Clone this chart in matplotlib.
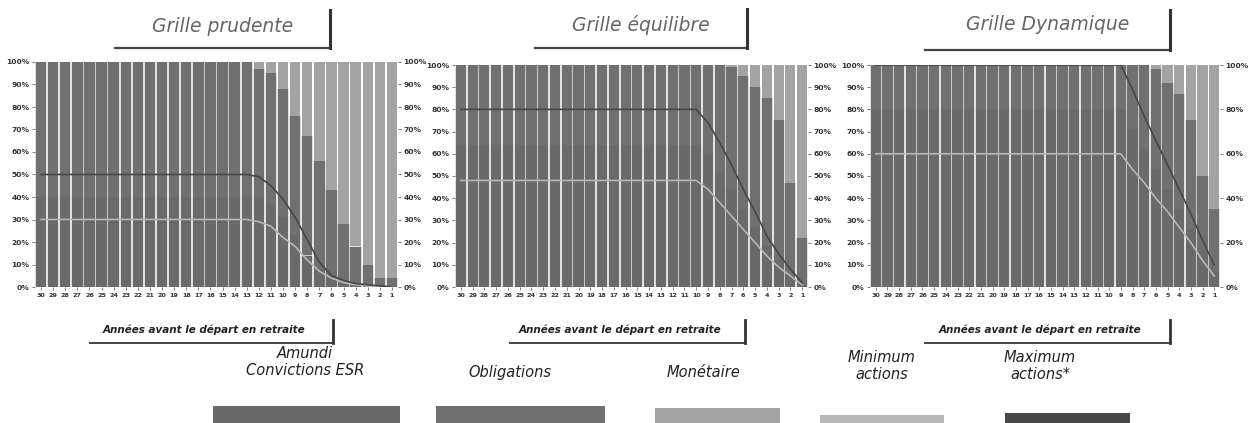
import matplotlib
matplotlib.use('Agg')
import matplotlib.pyplot as plt
from matplotlib.lines import Line2D
from matplotlib.patches import Rectangle

annees = list(range(30, 0, -1))
etiquettes_annees = [str(a) for a in annees]
pourcents = [0, 10, 20, 30, 40, 50, 60, 70, 80, 90, 100]
pourcents_dyn_droite = [0, 20, 40, 60, 80, 100]

# Grille prudente
prud_amundi = [40]*19 + [37, 31, 23, 14, 8, 4, 2, 1, 1, 0, 0]
prud_oblig = [60]*18 + [57, 58, 57, 53, 53, 48, 39, 26, 17, 9, 4, 4]
prud_monet = [0]*18 + [3, 5, 12, 24, 33, 44, 57, 72, 82, 90, 96, 96]
prud_min = [30]*18 + [29, 27, 22, 18, 12, 7, 4, 2, 1, 0.5, 0, 0]
prud_max = [50]*18 + [49, 45, 39, 31, 21, 11, 5, 3, 1.5, 1, 0.5, 0]

# Grille équilibre
equi_amundi = [64]*21 + [60, 52, 44, 35, 27, 19, 12, 6, 2]
equi_oblig = [36]*21 + [40, 48, 55, 60, 63, 66, 63, 41, 20]
equi_monet = [0]*21 + [0, 0, 1, 5, 10, 15, 25, 53, 78]
equi_min = [48]*21 + [44, 38, 32, 26, 20, 14, 9, 5, 1]
equi_max = [80]*21 + [74, 65, 55, 44, 34, 23, 15, 8, 2]

# Grille dynamique
dyn_amundi = [80]*22 + [71, 62, 53, 44, 35, 26, 16, 7]
dyn_oblig = [20]*22 + [29, 38, 45, 48, 52, 49, 34, 28]
dyn_monet = [0]*22 + [0, 0, 2, 8, 13, 25, 50, 65]
dyn_min = [60]*22 + [53, 47, 40, 34, 27, 20, 12, 5]
dyn_max = [100]*22 + [89, 77, 66, 55, 44, 33, 21, 10]

titres = ['Grille prudente', 'Grille équilibre', 'Grille Dynamique']
noms_legende = ['Amundi\nConvictions ESR', 'Obligations', 'Monétaire',
                'Minimum\nactions', 'Maximum\nactions*']

c_amundi = '#6a6a6a'
c_oblig = '#707070'
c_monet = '#a3a3a3'
c_min = '#b7b7b7'
c_max = '#474747'

W, H = 1253, 423
fig = plt.figure(figsize=(W/100, H/100), dpi=100)


def px(x, y):
    return x / W, 1 - y / H


def boite(texte, x0, x1, ytxt, yline, ytop, taille, xtxt=None):
    if xtxt is None:
        xtxt = (x0 + x1) / 2
    fig.text(*px(xtxt, ytxt), texte, ha='center', va='center', fontsize=taille,
             style='italic', color='#666666', family='DejaVu Sans')
    a, b = px(x0, yline)
    c, d = px(x1, yline)
    fig.add_artist(Line2D([a, c], [b, d], color='#444444', lw=1.6))
    e, f = px(x1, ytop)
    fig.add_artist(Line2D([c, e], [d, f], color='#333333', lw=2.2))


grilles = [
    (prud_amundi, prud_oblig, prud_monet, prud_min, prud_max),
    (equi_amundi, equi_oblig, equi_monet, equi_min, equi_max),
    (dyn_amundi, dyn_oblig, dyn_monet, dyn_min, dyn_max),
]
positions = [(35, 62, 398, 287), (455, 65, 808, 287), (870, 65, 1220, 287)]

x = list(range(len(annees)))
for i, (am, ob, mo, mn, mx) in enumerate(grilles):
    l, t, r, b = positions[i]
    ax = fig.add_axes([l/W, 1 - b/H, (r-l)/W, (b-t)/H])
    bas2 = [a + o for a, o in zip(am, ob)]
    ax.bar(x, am, width=0.86, color=c_amundi, edgecolor=c_amundi, linewidth=0.3)
    ax.bar(x, ob, bottom=am, width=0.86, color=c_oblig, edgecolor=c_oblig, linewidth=0.3)
    ax.bar(x, mo, bottom=bas2, width=0.86, color=c_monet, linewidth=0)
    ax.plot(x, mn, color=c_min, lw=1.2)
    ax.plot(x, mx, color=c_max, lw=1.2)
    ax.set_xlim(-0.5, len(annees) - 0.5)
    ax.set_ylim(0, 100)
    ax.set_xticks(x)
    ax.set_xticklabels(etiquettes_annees, fontsize=4.6, fontweight='bold',
                       family='Liberation Sans Narrow', color='#333333')
    ax.set_yticks(pourcents)
    ax.set_yticklabels([f'{p}%' for p in pourcents], fontsize=5.4,
                       fontweight='bold', color='#333333')
    for s in ax.spines.values():
        s.set_visible(False)
    ax.tick_params(axis='both', length=2, width=0.6, color='#666666', pad=2)
    ax2 = ax.twinx()
    ax2.set_ylim(0, 100)
    droite = pourcents_dyn_droite if i == 2 else pourcents
    ax2.set_yticks(droite)
    ax2.set_yticklabels([f'{p}%' for p in droite], fontsize=5.4,
                        fontweight='bold', color='#333333')
    for s in ax2.spines.values():
        s.set_visible(False)
    ax2.tick_params(axis='y', length=2, width=0.6, color='#666666', pad=2)

# titres des grilles
boite(titres[0], 115, 330, 26, 48, 10, 13.5)
boite(titres[1], 535, 747, 25, 48, 9, 13.5)
boite(titres[2], 925, 1170, 25, 50, 10, 13.5)

# libellés de l'axe des abscisses
for x0, x1 in [(90, 333), (510, 745), (925, 1170)]:
    fig.text(*px((x0 + x1) / 2 - 8, 330), 'Années avant le départ en retraite',
             ha='center', va='center', fontsize=7.5, style='italic',
             fontweight='bold', color='#222222')
    a, b = px(x0, 343)
    c, d = px(x1, 343)
    fig.add_artist(Line2D([a, c], [b, d], color='#444444', lw=1.4))
    e, f = px(x1, 320)
    fig.add_artist(Line2D([c, e], [d, f], color='#333333', lw=2))

# légende
leg_txt_x = [305, 510, 703, 882, 1040]
leg_txt_y = [362, 372, 372, 366, 366]
leg_sw = [(213, 400, 406), (436, 605, 406), (655, 780, 408), (820, 944, 415), (1005, 1130, 413)]
leg_col = [c_amundi, c_oblig, c_monet, c_min, c_max]
for nom, tx, ty, (s0, s1, sy), col in zip(noms_legende, leg_txt_x, leg_txt_y, leg_sw, leg_col):
    fig.text(*px(tx, ty), nom, ha='center', va='center', fontsize=10.5,
             style='italic', color='#222222', linespacing=1.1)
    a, b = px(s0, H)
    fig.add_artist(Rectangle((a, b), (s1 - s0) / W, (H - sy) / H,
                             transform=fig.transFigure, color=col, lw=0))

fig.savefig('out.png', dpi=100)
